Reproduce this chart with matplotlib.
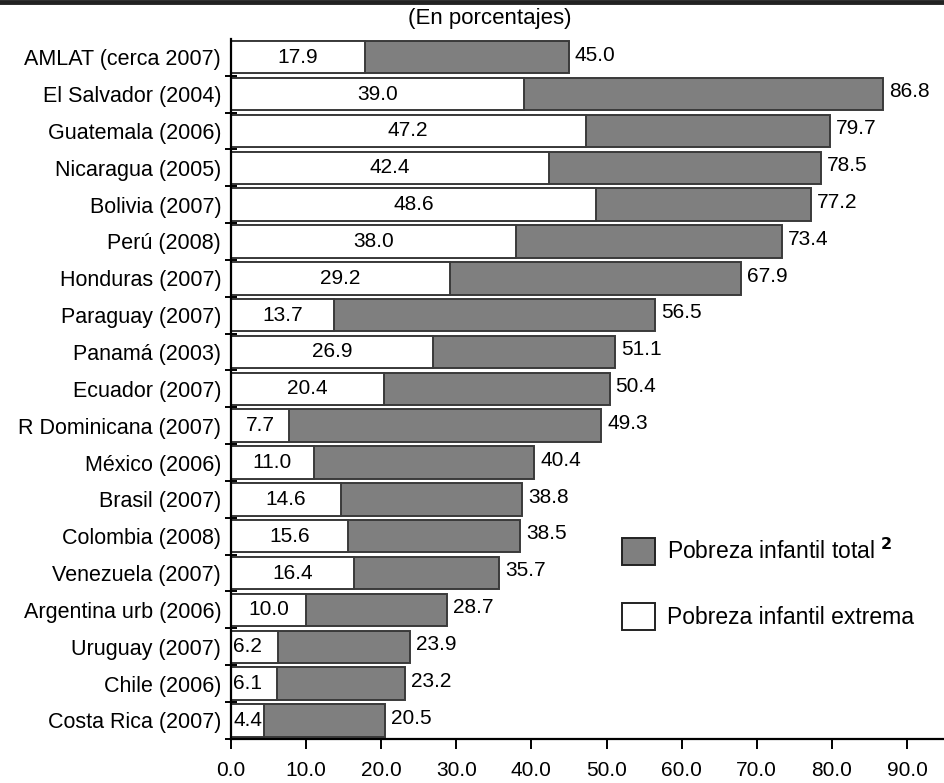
import matplotlib.pyplot as plt
from matplotlib.lines import Line2D
from matplotlib.patches import Patch

plt.rcParams['font.family'] = ['Liberation Sans', 'DejaVu Sans']

paises = ["AMLAT (cerca 2007)", "El Salvador (2004)", "Guatemala (2006)", "Nicaragua (2005)",
          "Bolivia (2007)", "Perú (2008)", "Honduras (2007)", "Paraguay (2007)", "Panamá (2003)",
          "Ecuador (2007)", "R Dominicana (2007)", "México (2006)", "Brasil (2007)",
          "Colombia (2008)", "Venezuela (2007)", "Argentina urb (2006)", "Uruguay (2007)",
          "Chile (2006)", "Costa Rica (2007)"]
total = [45.0, 86.8, 79.7, 78.5, 77.2, 73.4, 67.9, 56.5, 51.1, 50.4, 49.3, 40.4, 38.8,
         38.5, 35.7, 28.7, 23.9, 23.2, 20.5]
extrema = [17.9, 39.0, 47.2, 42.4, 48.6, 38.0, 29.2, 13.7, 26.9, 20.4, 7.7, 11.0, 14.6,
           15.6, 16.4, 10.0, 6.2, 6.1, 4.4]
xticks = [0, 10, 20, 30, 40, 50, 60, 70, 80, 90]

fig = plt.figure(figsize=(9.45, 7.83), dpi=100)
ax = fig.add_axes([0.2444, 0.0564, 0.7556, 0.894])

y = list(range(len(paises)))
ax.barh(y, total, height=0.88, color='#7f7f7f', edgecolor='#3a3a3a', linewidth=1.4)
ax.barh(y, extrema, height=0.88, color='white', edgecolor='#3a3a3a', linewidth=1.4)

for i in y:
    ax.text(total[i] + 0.8, i - 0.06, f"{total[i]:.1f}", ha='left', va='center', fontsize=15)
    if extrema[i] > 7:
        ax.text(extrema[i] / 2, i, f"{extrema[i]:.1f}", ha='center', va='center', fontsize=15)
    else:
        ax.text(0.3, i, f"{extrema[i]:.1f}", ha='left', va='center', fontsize=15)

ax.set_ylim(len(paises) - 0.5, -0.5)
ax.set_xlim(0, 95.06)
ax.set_yticks([i - 0.5 for i in range(1, len(paises) + 1)])
ax.set_yticklabels([])
ax.set_yticks(y, minor=True)
ax.set_yticklabels(paises, minor=True, fontsize=15.5)
ax.tick_params(axis='y', which='minor', length=0, pad=7)
ax.tick_params(axis='y', which='major', direction='inout', length=8, width=1.4)
ax.set_xticks(xticks)
ax.set_xticklabels([f"{v:.1f}" for v in xticks], fontsize=15)
ax.tick_params(axis='x', length=7, width=1.4, pad=9)
ax.spines['top'].set_visible(False)
ax.spines['right'].set_visible(False)
ax.spines['left'].set_linewidth(1.6)
ax.spines['bottom'].set_linewidth(1.6)

fig.text(0.518, 0.977, "(En porcentajes)", ha='center', va='center', fontsize=16)
fig.add_artist(Line2D([0, 1], [0.998, 0.998], color='#222222', linewidth=3.5, transform=fig.transFigure))

handles = [Patch(facecolor='#7f7f7f', edgecolor='#222222', linewidth=1.4),
           Patch(facecolor='white', edgecolor='#222222', linewidth=1.4)]
ax.legend(handles, ["Pobreza infantil total $^{\\mathbf{2}}$", "Pobreza infantil extrema"],
          loc='upper left', bbox_to_anchor=(0.548, 0.287), frameon=False, fontsize=16.5,
          handlelength=1.45, handleheight=1.45, labelspacing=1.65, handletextpad=0.5,
          borderpad=0, borderaxespad=0)

fig.savefig('out.png', dpi=100)
